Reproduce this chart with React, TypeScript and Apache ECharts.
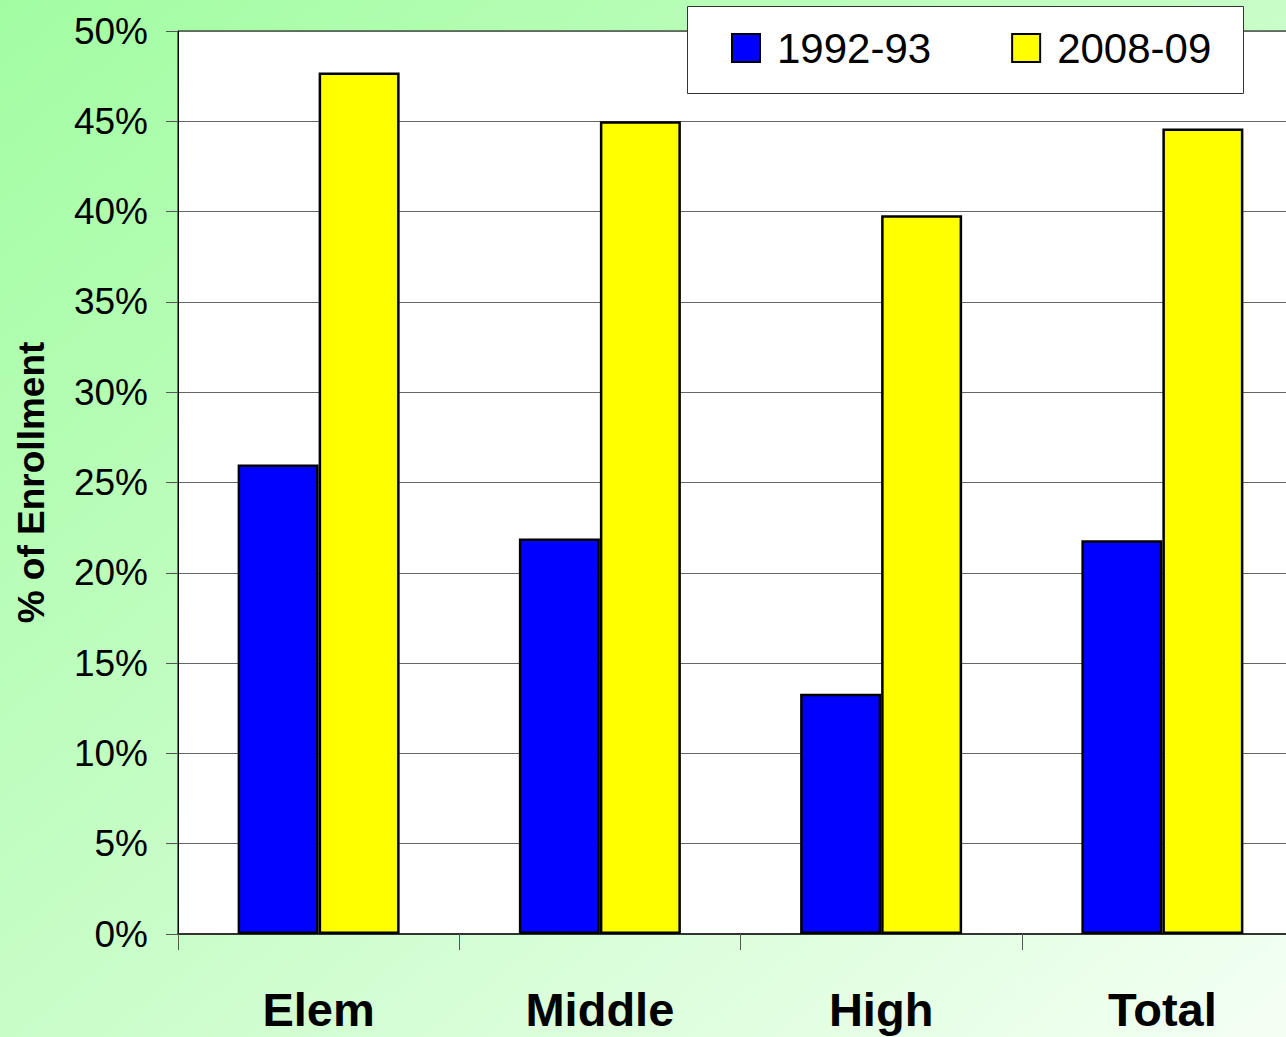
import React, { useEffect, useRef } from "react";
import * as echarts from "echarts";

const categories = ["Elem", "Middle", "High", "Total"];
const series1992 = [26.0, 21.9, 13.3, 21.8];
const series2008 = [47.7, 45.0, 39.8, 44.6];
const seriesNames = ["1992-93", "2008-09"];
const FONT = "'Liberation Sans', Arial, Helvetica, sans-serif";

export default function App() {
  const ref = useRef<HTMLDivElement>(null);
  useEffect(() => {
    const chart = echarts.init(ref.current!, null, { renderer: "svg" });
    chart.setOption({
      animation: false,
      backgroundColor: new echarts.graphic.LinearGradient(0, 0, 1, 1, [
        { offset: 0, color: "#a2fda2" },
        { offset: 0.5, color: "#c8fdc8" },
        { offset: 1, color: "#f4fff4" },
      ]),
      textStyle: { fontFamily: FONT },
      graphic: [
        {
          type: "rect",
          left: 687,
          top: 6,
          shape: { width: 556, height: 87 },
          style: { fill: "#ffffff", stroke: "#333333", lineWidth: 1 },
          z: 10,
        },
      ],
      legend: {
        left: 731,
        top: 27,
        padding: 0,
        itemWidth: 28,
        itemHeight: 28,
        itemGap: 80,
        z: 20,
        icon: "rect",
        itemStyle: { borderColor: "#000", borderWidth: 2 },
        textStyle: {
          fontSize: 42,
          color: "#000",
          fontFamily: FONT,
          padding: [0, 0, 0, 12],
        },
        data: seriesNames,
      },
      grid: {
        left: 178,
        top: 31,
        width: 1125,
        height: 903,
        outerBoundsMode: "none",
        containLabel: false,
        show: true,
        backgroundColor: "#ffffff",
        borderColor: "#000",
        borderWidth: 1,
      },
      xAxis: {
        type: "category",
        data: categories,
        axisLine: { lineStyle: { color: "#333", width: 2 } },
        axisTick: {
          show: true,
          alignWithLabel: false,
          length: 16,
          lineStyle: { color: "#555", width: 1 },
        },
        axisLabel: {
          fontSize: 47,
          fontWeight: "bold",
          color: "#000",
          margin: 52,
          fontFamily: FONT,
        },
      },
      yAxis: {
        type: "value",
        min: 0,
        max: 50,
        interval: 5,
        name: "% of Enrollment",
        nameLocation: "middle",
        nameGap: 128,
        nameTextStyle: {
          fontSize: 37,
          fontWeight: "bold",
          color: "#000",
          fontFamily: FONT,
        },
        axisLine: { show: true, lineStyle: { color: "#000", width: 1 } },
        axisTick: {
          show: true,
          length: 12,
          lineStyle: { color: "#555", width: 1 },
        },
        axisLabel: {
          formatter: "{value}%",
          fontSize: 37,
          color: "#000",
          margin: 30,
          fontFamily: FONT,
        },
        splitLine: { lineStyle: { color: "#666", width: 1 } },
      },
      series: [
        {
          name: seriesNames[0],
          type: "bar",
          data: series1992,
          barWidth: 81,
          barGap: "0%",
          itemStyle: { color: "#0000ff", borderColor: "#000", borderWidth: 2.5 },
        },
        {
          name: seriesNames[1],
          type: "bar",
          data: series2008,
          barWidth: 81,
          barGap: "0%",
          itemStyle: { color: "#ffff00", borderColor: "#000", borderWidth: 2.5 },
        },
      ],
    });
    return () => chart.dispose();
  }, []);
  return (
    <div
      ref={ref}
      style={{ position: "fixed", left: 0, top: 0, width: 1286, height: 1037 }}
    />
  );
}
